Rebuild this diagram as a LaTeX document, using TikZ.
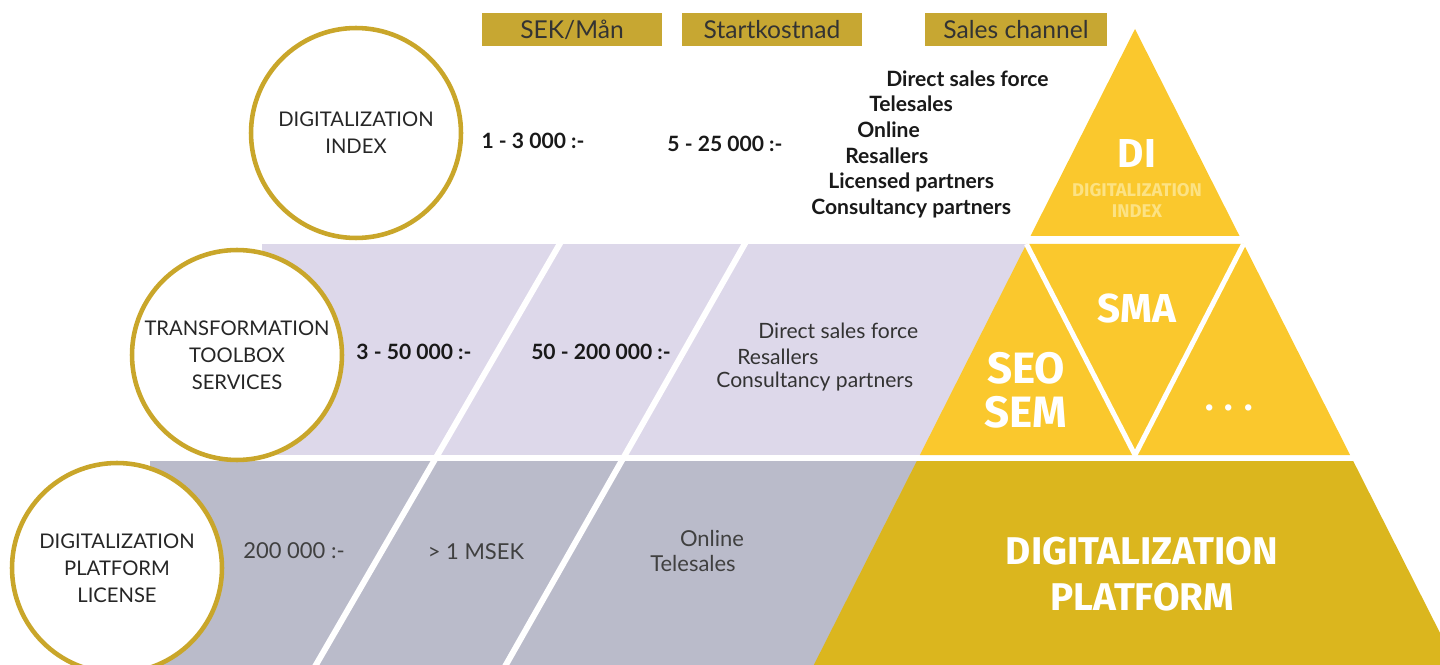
\documentclass[tikz,border=0pt]{standalone}
\usepackage{fontspec}
\setmainfont{Lato}
\newfontfamily\pyrfont{Fira Sans}
\definecolor{headgold}{RGB}{199,167,50}
\definecolor{ringgold}{RGB}{201,166,42}
\definecolor{lavender}{RGB}{221,216,234}
\definecolor{bandgray}{RGB}{186,187,202}
\definecolor{pyryellow}{RGB}{250,200,45}
\definecolor{pyrdark}{RGB}{219,182,30}
\definecolor{paleyellow}{RGB}{252,226,132}
\begin{document}
\begin{tikzpicture}[x=0.02cm, y=-0.02cm,
    head/.style={fill=headgold, minimum width=3.6cm, minimum height=0.66cm, inner sep=0pt, text=black!80, font=\fontsize{14}{16}\selectfont},
    ring/.style={circle, draw=ringgold, line width=2.6pt, fill=white, minimum size=4.2cm, inner sep=0pt, align=center, text=black!85, font=\fontsize{11.5}{15.5}\selectfont},
    price/.style={inner sep=0pt, text=black!90, font=\fontsize{12}{14}\selectfont\bfseries},
    plain/.style={inner sep=0pt, align=center, text=black!75, font=\fontsize{12.5}{14.5}\selectfont},
    chan/.style={inner sep=0pt, anchor=west, text=black!90, font=\fontsize{12}{14}\selectfont\bfseries},
    pyr/.style={inner sep=0pt, text=white, align=center, font=\pyrfont\bfseries\fontsize{23}{25}\selectfont},
    cut/.style={white, line width=0.12cm}]
    \useasboundingbox (0,0) rectangle (1440,665);
    \clip (0,0) rectangle (1440,665);
    % bands behind the circles
    \fill[lavender] (262,244) rectangle (1100,455);
    \fill[bandgray] (150,461) rectangle (1000,665);
    \draw[cut] (562,240) -- (313,670);
    \draw[cut] (747,240) -- (503,670);
    % pyramid
    \fill[pyryellow] (1135,29) -- (1239.5,236) -- (1030.5,236) -- cycle;
    \fill[pyryellow] (1026.4,244) -- (1243.6,244) -- (1350.1,455) -- (919.9,455) -- cycle;
    \fill[pyrdark] (916.8,461) -- (1353.2,461) -- (1456.2,665) -- (813.8,665) -- cycle;
    \draw[white, line width=0.1cm] (1026.4,244) -- (1135,455) -- (1243.6,244);
    % headers
    \node[head] (1) at (572,29.5) {SEK/Mån};
    \node[head] (2) at (772,29.5) {Startkostnad};
    \node[head, minimum width=3.64cm] (3) at (1016,29.5) {Sales channel};
    % circles
    \node[ring] (4) at (356,133) {DIGITALIZATION\\INDEX};
    \node[ring] (5) at (237,355) {TRANSFORMATION\\TOOLBOX\\SERVICES};
    \node[ring] (6) at (117,568) {DIGITALIZATION\\PLATFORM\\LICENSE};
    % prices
    \node[price] (7) at (533,141) {1 - 3 000 :-};
    \node[price] (8) at (725,144) {5 - 25 000 :-};
    \node[price] (9) at (414,352) {3 - 50 000 :-};
    \node[price] (10) at (601,352) {50 - 200 000 :-};
    \node[plain] (11) at (294,551) {200 000 :-};
    \node[plain] (12) at (476,552) {> 1 MSEK};
    % sales channels
    \foreach \n/\xpos/\ypos/\txt in {13/886/79/Direct sales force, 14/869/104/Telesales,
        15/857/130/Online, 16/845/156/Resallers, 17/828/182/Licensed partners,
        18/811/208/Consultancy partners}
      \node[chan] (\n) at (\xpos,\ypos) {\txt};
    \foreach \n/\xpos/\ypos/\txt in {19/758/331/Direct sales force, 20/737/357/Resallers,
        21/716/382/Consultancy partners}
      \node[chan, font=\fontsize{12}{14}\selectfont, text=black!80] (\n) at (\xpos,\ypos) {\txt};
    \node[plain] (22) at (712,538) {Online};
    \node[plain] (23) at (693,563) {Telesales};
    % pyramid labels
    \node[pyr] (24) at (1137,154) {DI};
    \node[pyr, text=paleyellow, font=\pyrfont\bfseries\fontsize{10.5}{12}\selectfont] (25) at (1137,200) {DIGITALIZATION\\INDEX};
    \node[pyr] (26) at (1137,308) {SMA};
    \node[pyr, font=\pyrfont\bfseries\fontsize{25}{25}\selectfont] (27) at (1026,390) {SEO\\SEM};
    \node[pyr, font=\pyrfont\bfseries\fontsize{20}{22}\selectfont] (28) at (1229,408) {. . .};
    \node[pyr, font=\pyrfont\bfseries\fontsize{22}{26}\selectfont] (29) at (1142,574) {DIGITALIZATION\\PLATFORM};
\end{tikzpicture}
\end{document}
